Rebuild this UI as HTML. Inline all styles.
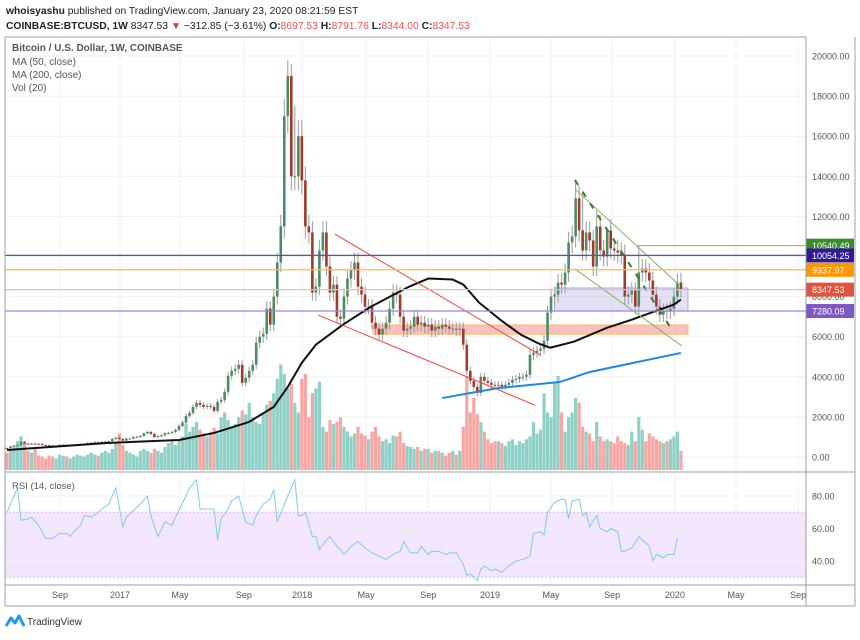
<!DOCTYPE html>
<html><head><meta charset="utf-8">
<style>
body{margin:0;background:#fff;width:860px;height:635px;overflow:hidden;font-family:"Liberation Sans",sans-serif}
svg text{font-family:"Liberation Sans",sans-serif}
</style></head>
<body>
<svg id="c" width="860" height="635" xmlns="http://www.w3.org/2000/svg">
<text x="6" y="14" font-size="10.3" fill="#222"><tspan font-weight="bold">whoisyashu</tspan> published on TradingView.com, January 23, 2020 08:21:59 EST</text>
<text x="6" y="29" font-size="10.3" fill="#222"><tspan font-weight="bold">COINBASE:BTCUSD, 1W</tspan> 8347.53 <tspan fill="#e53935">▼</tspan> −312.85 (−3.61%) <tspan font-weight="bold">O:</tspan><tspan fill="#ef5350">8697.53</tspan> <tspan font-weight="bold">H:</tspan><tspan fill="#ef5350">8791.76</tspan> <tspan font-weight="bold">L:</tspan><tspan fill="#ef5350">8344.00</tspan> <tspan font-weight="bold">C:</tspan><tspan fill="#ef5350">8347.53</tspan></text>
<g id="grid"></g>
<g id="ann1"></g>
<g id="vol"></g>
<g id="candles"></g>
<g id="lines"></g>
<g id="rsi"></g>
<g id="axes"></g>
<text x="12" y="51" font-size="10" fill="#555" font-weight="bold">Bitcoin / U.S. Dollar, 1W, COINBASE</text>
<text x="12" y="65" font-size="10" fill="#555">MA (50, close)</text>
<text x="12" y="78" font-size="10" fill="#555">MA (200, close)</text>
<text x="12" y="91" font-size="10" fill="#555">Vol (20)</text>
<text x="12" y="489" font-size="9.5" fill="#555">RSI (14, close)</text>
<g>
<path d="M6 626 L11 618 L15 623 L19 616 L24 626" fill="none" stroke="#2196f3" stroke-width="3" stroke-linejoin="round"/>
<text x="27" y="625" font-size="10" fill="#333">TradingView</text>
</g>
</svg>
<script>
const closes=[440,530,575,590,760,665,650,670,660,655,600,590,575,570,575,610,610,605,605,615,630,640,655,700,710,740,730,755,770,790,900,
960,900,820,920,920,1000,1010,1050,1180,1250,1150,1000,1040,1080,1180,1200,1250,1350,1550,1720,2050,2200,2500,2700,2600,2500,2550,2500,2300,2750,2850,3250,4050,4300,4400,4600,3700,3950,4300,4600,5700,6000,6150,7400,6600,8000,9700,
11500,17000,19000,14000,14000,16000,13800,11500,11200,8200,8500,10300,11200,9500,8200,8600,7000,6900,8000,8900,9300,9700,8500,8100,7500,7500,6700,6400,6100,6400,6700,7400,8200,8100,7000,6300,6400,6500,7000,6600,6700,6500,6600,6300,6500,6400,6600,6500,6400,6400,6350,6400,5600,4300,3800,3500,3200,4000,3800,3700,3600,3550,3600,3500,3600,3700,3850,3900,4000,4000,4100,5100,5200,5300,5400,5800,7200,8000,8100,8700,8600,9200,10700,11000,12900,11300,10300,11200,10800,9500,11500,10300,10000,11300,10400,10300,10200,10100,8000,8100,8300,7500,9200,9400,9200,8800,8100,7500,7100,7300,7250,7400,8000,8700,8347.53];
const highWeeks=[80,81,82,162,164,168,171,180,192];
const highVals=[19800,19600,17500,13800,13200,12300,10900,10540,9190];
const volumes=[18,20,25,30,35,28,20,18,22,15,14,12,15,14,12,16,15,14,12,14,16,15,14,16,18,16,15,18,20,18,22,28,38,26,20,18,16,14,20,22,20,18,22,20,18,24,28,30,26,32,35,48,40,45,50,42,38,35,40,44,38,55,60,52,45,48,55,62,58,70,55,50,48,60,68,72,80,95,110,100,85,90,70,60,95,100,55,80,85,92,45,40,52,48,50,55,45,40,35,38,45,38,36,32,40,45,35,30,32,28,36,35,40,28,25,24,22,24,20,22,22,18,20,20,18,15,18,20,16,20,45,98,60,75,58,50,40,32,28,30,30,28,25,30,32,26,30,28,32,35,50,38,42,80,60,55,90,98,60,40,55,60,75,70,45,40,38,30,50,35,30,32,30,28,35,30,28,26,40,30,55,42,30,38,35,32,30,28,30,32,35,40,20];
const maWeeks=[0,28.5,49,59,69,76,80,84,88,95.7,103.7,114,120,127,130,134.5,140.5,146.4,151.6,154.7,161.5,171,178,183.5,190,192];
const maVals=[350,700,850,1200,1750,2500,3500,4700,5600,6600,7500,8450,8900,8850,8600,7700,6850,6100,5650,5450,5750,6450,6850,7200,7600,7850];
const ma200Weeks=[124,140,157.5,166,192];
const ma200Vals=[2940,3440,3740,4240,5190];
const rsiWeeks=[0,3,4,6,7,9,11,13,15,17,18,19,21,22,24,26,27,29,31,33,34,36,38,40,41,43,45,47,48,51,52,54,55,59,60,61,63,64,66,68,70,71,73,75,76,77,79,80,82,83,84,85,87,88,89,91,92,94,95,96,98,100,102,104,106,108,110,112,113,115,117,118,120,121,123,125,126,128,130,131,132,134,135,136,138,139,141,143,145,147,149,150,152,153,154,156,158,159,160,161,163,164,165,166,168,169,171,172,174,175,176,178,180,181,183,184,185,187,188,190,191];
const rsiVals=[70,85,65,66,67,62,54,54,57,57,55,58,62,68,67,70,72,75,85,61,67,71,75,80,68,55,64,62,67,80,85,90,72,72,53,66,72,77,80,64,62,68,75,78,84,64,75,80,90,68,68,70,55,55,47,53,55,49,47,44,49,52,48,45,43,41,44,46,52,45,45,49,44,46,46,44,45,45,38,31,32,28,35,37,34,35,33,37,40,41,43,57,58,56,70,76,78,78,66,77,78,68,70,61,68,60,58,60,58,46,46,48,55,53,49,40,44,42,44,44,54,50];
const priceTicks=[20000,18000,16000,14000,12000,10000,8000,6000,4000,2000,0];
const rsiTicks=[80,60,40];
const timeLabels=["Sep","2017","May","Sep","2018","May","Sep","2019","May","Sep","2020","May","Sep"];
const timeWeeks=[15.1,32.2,49.3,67.5,84.1,102.3,120,137.6,155,172.4,190.3,207.7,225.4];
const hLines=[[10054.25,"#311b92","#5e4db3"],[9337.97,"#ff9800","#ffb74d"],[8347.53,"#e0533f","#f4b6ad"],[7280.09,"#7e57c2","#9b86d6"]];

const NS="http://www.w3.org/2000/svg";
const L=5,R=806,T=37,MB=472,RB=585,BB=606;
const xw=i=>7+i*3.51;
const yp=p=>457-p*0.02005;
const yr=v=>496+(80-v)*1.625;
const yv=v=>470-v*0.96;
function mk(parent,tag,at){const e=document.createElementNS(NS,tag);for(const k in at)e.setAttribute(k,at[k]);document.getElementById(parent).appendChild(e);return e;}

timeWeeks.forEach((w,k)=>{const x=xw(w);
 const g=mk('grid','line',{x1:x,x2:x,y1:T,y2:RB,stroke:'#eef0f3'});
 
 
 const t=mk('axes','text',{x:x,y:598,'font-size':9,fill:'#555','text-anchor':'middle'});
 t.textContent=timeLabels[k];
 
 
});
priceTicks.forEach(p=>{const y=yp(p);
 const g=mk('grid','line',{x1:L,x2:R,y1:y,y2:y,stroke:'#eef0f3'});
 
 
 const t=mk('axes','text',{x:812,y:y+3.5,'font-size':9,fill:'#555'});
 t.textContent=p.toFixed(2);
 
 
});
const band=mk('rsi','rect',{x:L,y:yr(70),width:R-L,height:yr(30)-yr(70),fill:'#f3e6fc'});


[70,30].forEach(v=>{const l=mk('rsi','line',{x1:L,x2:R,y1:yr(v),y2:yr(v),stroke:'#d7b8ec','stroke-dasharray':'2,2'});
 
 });
rsiTicks.forEach(v=>{const y=yr(v);
 const g=mk('rsi','line',{x1:L,x2:R,y1:y,y2:y,stroke:'#eef0f3'});
 
 
 const t=mk('axes','text',{x:812,y:y+3.5,'font-size':9,fill:'#555'});
 t.textContent=v.toFixed(2);
 
 
});
const rp=rsiWeeks.map((w,k)=>xw(w)+','+yr(rsiVals[k])).join(' ');
const rl=mk('rsi','polyline',{points:rp,fill:'none',stroke:'#7fcbe8','stroke-width':1});



function box(w1,w2,p1,p2,fill,stroke,name){const r=mk('ann1','rect',{x:xw(w1),y:yp(p1),width:xw(w2)-xw(w1),height:yp(p2)-yp(p1),fill:fill,stroke:stroke});
 
 }
box(104.3,194,6580,6130,'rgba(244,120,110,0.45)','#ffb74d','support-zone-box');
box(156,194,8430,7280,'rgba(180,170,225,0.35)','#b0a6e0','consolidation-box');

volumes.forEach((v,i)=>{const o=i?closes[i-1]:450;const up=closes[i]>=o;
 const r=mk('vol','rect',{x:xw(i)-1.6,y:yv(v),width:3.2,height:470-yv(v),fill:up?'#8fd1c7':'#f5a7a4'});
 
 });

closes.forEach((c,i)=>{const o=i?closes[i-1]:450;const up=c>=o;const x=xw(i);
 const hk=highWeeks.indexOf(i);
 const hi=hk>=0?highVals[hk]:Math.max(o,c)*1.05;const lo=Math.min(o,c)*0.95;
 const w=mk('candles','line',{x1:x,x2:x,y1:yp(hi),y2:yp(lo),stroke:'#9a9a9a','stroke-width':1});
 
 
 const top=yp(Math.max(o,c)),bot=yp(Math.min(o,c));
 const b=mk('candles','rect',{x:x-1.3,y:top,width:2.6,height:Math.max(1,bot-top),fill:up?'#4f8a63':'#a03a2b'});
 
 });

const m50=mk('lines','polyline',{points:maWeeks.map((w,k)=>xw(w)+','+yp(maVals[k])).join(' '),fill:'none',stroke:'#111','stroke-width':2,'stroke-linejoin':'round'});


const m200=mk('lines','polyline',{points:ma200Weeks.map((w,k)=>xw(w)+','+yp(ma200Vals[k])).join(' '),fill:'none',stroke:'#1e88e5','stroke-width':2});



function tl(w1,p1,w2,p2,col,name,dash,sw){const l=mk('lines','line',{x1:xw(w1),y1:yp(p1),x2:xw(w2),y2:yp(p2),stroke:col,'stroke-width':sw||1,'stroke-dasharray':dash||'none'});
 
 }
tl(93.4,11120,151.9,5090,'#f44336','red-upper-trendline');
tl(88.6,7080,150.4,2590,'#f44336','red-lower-trendline');
tl(161.8,13370,191.2,8630,'#7cb760','green-upper-channel');
tl(161.8,9380,192.3,5540,'#7cb760','green-lower-channel');
tl(161.8,13820,189.5,6330,'#3f7d2e','dashed-trend-line','6,8',2);
tl(179.5,10540.49,228.5,10540.49,'#7cb760','resistance-10540-line');

const gl=mk('axes','rect',{x:R,y:yp(10540.49)-7,width:48,height:14,fill:'#3c8a2e'});


const gt=mk('axes','text',{x:812,y:yp(10540.49)+3.5,'font-size':9,fill:'#fff'});gt.textContent='10540.49';
hLines.forEach(h=>{const y=yp(h[0]);
 const l=mk('lines','line',{x1:L,x2:R,y1:y,y2:y,stroke:h[2],'stroke-width':1.2});
 
 
 const r=mk('axes','rect',{x:R,y:y-7,width:48,height:14,fill:h[1]});
 
 
 const t=mk('axes','text',{x:812,y:y+3.5,'font-size':9,fill:'#fff'});t.textContent=h[0].toFixed(2);});

[[L,T,R,T],[L,T,L,BB],[L,BB,855,BB],[855,T,855,BB],[R,T,R,BB],[L,MB,855,MB],[L,RB,855,RB]].forEach(a=>{
 const l=mk('axes','line',{x1:a[0],y1:a[1],x2:a[2],y2:a[3],stroke:'#9aa0a6','stroke-width':1});
 
 });
</script>
</body></html>
